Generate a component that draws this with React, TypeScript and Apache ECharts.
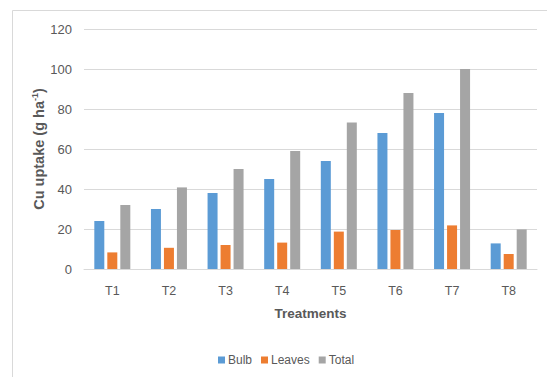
import React, { useEffect, useRef } from "react";
import * as echarts from "echarts";

const categories = ["T1", "T2", "T3", "T4", "T5", "T6", "T7", "T8"];
const bulb = [24, 30, 38, 45, 54, 68, 78, 12.8];
const leaves = [8.3, 10.6, 12, 13.2, 18.7, 19.5, 21.8, 7.5];
const total = [32, 40.8, 50, 59, 73.2, 88, 100, 19.8];
const seriesNames = ["Bulb", "Leaves", "Total"];
const colors = ["#5B9BD5", "#ED7D31", "#A5A5A5"];

const FONT = "'Liberation Sans', Arial, sans-serif";

export default function App() {
  const ref = useRef<HTMLDivElement>(null);
  useEffect(() => {
    if (!ref.current) return;
    const chart = echarts.init(ref.current, undefined, { renderer: "svg" });
    const data = [bulb, leaves, total];
    chart.setOption({
      animation: false,
      backgroundColor: "#ffffff",
      textStyle: { fontFamily: FONT },
      graphic: [
        {
          type: "rect",
          shape: { x: 12.5, y: 10.5, width: 700, height: 500 },
          style: { fill: "none", stroke: "#d9d9d9", lineWidth: 1 },
          silent: true,
          z: -1,
        },
      ],
      grid: { left: 84, right: 10, top: 29, bottom: 108 },
      legend: {
        data: seriesNames,
        left: 213,
        top: 349,
        icon: "rect",
        itemWidth: 7,
        itemHeight: 7,
        itemGap: 9,
        textStyle: { color: "#595959", fontSize: 12, fontFamily: FONT, padding: [0, 0, 0, -2] },
      },
      xAxis: {
        type: "category",
        data: categories,
        name: "Treatments",
        nameLocation: "middle",
        nameGap: 37,
        nameMoveOverlap: false,
        nameTextStyle: { color: "#595959", fontSize: 13.5, fontWeight: "bold", fontFamily: FONT },
        axisLine: { lineStyle: { color: "#d9d9d9" } },
        axisTick: { show: false },
        axisLabel: { color: "#595959", fontSize: 12.5, margin: 15, fontFamily: FONT },
      },
      yAxis: {
        type: "value",
        min: 0,
        max: 120,
        interval: 20,
        name: "{a|Cu uptake (g ha}{s|-1}{a|)}",
        nameLocation: "middle",
        nameGap: 36,
        nameMoveOverlap: false,
        nameTextStyle: {
          rich: {
            a: { color: "#595959", fontSize: 14.5, fontWeight: "bold", fontFamily: FONT, lineHeight: 18 },
            s: { color: "#595959", fontSize: 9, fontWeight: "bold", fontFamily: FONT, lineHeight: 18, verticalAlign: "top" },
          },
        },
        axisLine: { show: false },
        axisTick: { show: false },
        splitLine: { lineStyle: { color: "#d9d9d9" } },
        axisLabel: { color: "#595959", fontSize: 13, margin: 12, fontFamily: FONT },
      },
      series: seriesNames.map((name, i) => ({
        name,
        type: "bar",
        data: data[i],
        barWidth: 10,
        barGap: "30%",
        itemStyle: { color: colors[i] },
      })),
    });
    return () => chart.dispose();
  }, []);
  return (
    <div
      ref={ref}
      style={{ position: "fixed", left: 0, top: 0, width: 547, height: 377 }}
    />
  );
}
